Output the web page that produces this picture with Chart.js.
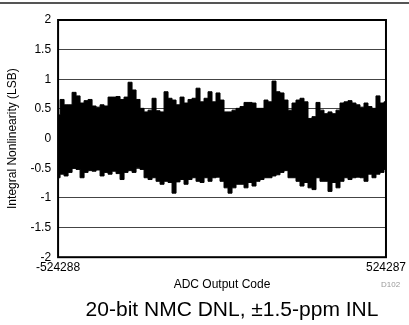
<!DOCTYPE html>
<html>
<head>
<meta charset="utf-8">
<script src="https://cdn.jsdelivr.net/npm/chart.js@4/dist/chart.umd.min.js"></script>
<style>
  body { margin: 0; background: #fff; }
  #wrap { position: relative; width: 409px; height: 325px; }
  #topline { position: absolute; left: 0; top: 2px; width: 409px; height: 2px; background: #555; }
  #tag { position: absolute; left: 381px; top: 280px; font: 8px "Liberation Sans", Arial, sans-serif; color: #999; }
  #caption { position: absolute; left: 0; width: 464px; text-align: center; top: 297px; font: 21px "Liberation Sans", Arial, sans-serif; color: #000; white-space: nowrap; }
</style>
</head>
<body>
<div id="wrap">
  <canvas id="inl" width="409" height="325"></canvas>
  <div id="topline"></div>
  <div id="tag">D102</div>
  <div id="caption"></div>
</div>
<script>
'use strict'

// x range and labels
var codeMin = -524288
var codeMax = 524287
var yMin = -2
var yMax = 2
var yStep = 0.5
var xTitle = 'ADC Output Code'
var yTitle = 'Integral Nonlinearity (LSB)'
var caption = '20-bit NMC DNL, \u00b11.5-ppm INL'

// upper and lower edge of the noise band, left to right (LSB)
var upper = [0.40, 0.66, 0.57, 0.57, 0.78, 0.72, 0.60, 0.64, 0.66, 0.55,
  0.53, 0.57, 0.55, 0.70, 0.70, 0.71, 0.66, 0.70, 0.95, 0.82,
  0.66, 0.51, 0.45, 0.48, 0.68, 0.47, 0.45, 0.79, 0.68, 0.65,
  0.57, 0.70, 0.60, 0.66, 0.68, 0.85, 0.62, 0.68, 0.79, 0.62,
  0.77, 0.65, 0.45, 0.45, 0.48, 0.51, 0.54, 0.61, 0.61, 0.60,
  0.51, 0.51, 0.65, 0.62, 0.97, 0.79, 0.77, 0.65, 0.48, 0.60,
  0.65, 0.68, 0.62, 0.34, 0.37, 0.61, 0.48, 0.42, 0.45, 0.42,
  0.48, 0.60, 0.62, 0.64, 0.60, 0.57, 0.53, 0.60, 0.54, 0.51,
  0.72, 0.60, 0.62]
var lower = [-0.66, -0.60, -0.63, -0.57, -0.50, -0.52, -0.66, -0.57, -0.54, -0.55,
  -0.53, -0.63, -0.57, -0.60, -0.55, -0.59, -0.69, -0.57, -0.54, -0.57,
  -0.49, -0.52, -0.66, -0.69, -0.66, -0.72, -0.77, -0.72, -0.74, -0.92,
  -0.73, -0.69, -0.77, -0.69, -0.66, -0.72, -0.74, -0.66, -0.72, -0.66,
  -0.65, -0.72, -0.83, -0.92, -0.83, -0.77, -0.77, -0.83, -0.74, -0.80,
  -0.72, -0.69, -0.66, -0.66, -0.63, -0.61, -0.57, -0.54, -0.66, -0.66,
  -0.72, -0.80, -0.74, -0.83, -0.86, -0.66, -0.72, -0.72, -0.89, -0.74,
  -0.83, -0.72, -0.66, -0.69, -0.66, -0.65, -0.66, -0.72, -0.60, -0.66,
  -0.60, -0.57, -0.52]

document.getElementById('caption').textContent = caption

function edge(vals) {
  var out = []
  for (var k = 0; k < vals.length; k++) {
    out.push({ x: codeMin + k * (codeMax - codeMin) / (vals.length - 1), y: vals[k] })
  }
  return out
}

var font = '"Liberation Sans", Arial, sans-serif'

var frame = {
  id: 'frame',
  afterDraw: function (chart) {
    var a = chart.chartArea
    var ctx = chart.ctx
    ctx.save()
    ctx.strokeStyle = '#000'
    ctx.lineWidth = 2
    ctx.strokeRect(a.left, a.top, a.right - a.left, a.bottom - a.top)
    ctx.restore()
  }
}

var chart = new Chart(document.getElementById('inl'), {
  type: 'line',
  data: {
    datasets: [{
      data: edge(upper),
      borderColor: '#000',
      borderWidth: 1,
      pointRadius: 0,
      stepped: 'middle',
      fill: false
    }, {
      data: edge(lower),
      borderColor: '#000',
      backgroundColor: '#000',
      borderWidth: 1,
      pointRadius: 0,
      stepped: 'middle',
      fill: '-1'
    }]
  },
  options: {
    responsive: false,
    animation: false,
    layout: { padding: { left: 5, right: 0, top: 20, bottom: 33 } },
    plugins: {
      legend: { display: false },
      tooltip: { enabled: false },
      title: { display: false }
    },
    scales: {
      x: {
        type: 'linear',
        min: codeMin,
        max: codeMax,
        afterBuildTicks: function (axis) {
          axis.ticks = [{ value: codeMin }, { value: codeMax }]
        },
        grid: { display: false, drawTicks: false },
        border: { display: false },
        ticks: {
          color: '#000',
          maxRotation: 0,
          padding: 3,
          font: { family: font, size: 12 },
          callback: function (v) { return String(v) }
        },
        title: {
          display: true,
          text: xTitle,
          color: '#000',
          font: { family: font, size: 12 },
          padding: { top: 0, bottom: 0 }
        }
      },
      y: {
        min: yMin,
        max: yMax,
        border: { display: false },
        grid: { color: '#444', lineWidth: 1, drawTicks: false },
        ticks: {
          stepSize: yStep,
          color: '#000',
          padding: 7,
          font: { family: font, size: 12 },
          callback: function (v) { return String(v) }
        },
        title: {
          display: true,
          text: yTitle,
          color: '#000',
          font: { family: font, size: 12 },
          padding: { top: 0, bottom: 4 }
        }
      }
    }
  },
  plugins: [frame]
})
</script>
</body>
</html>
